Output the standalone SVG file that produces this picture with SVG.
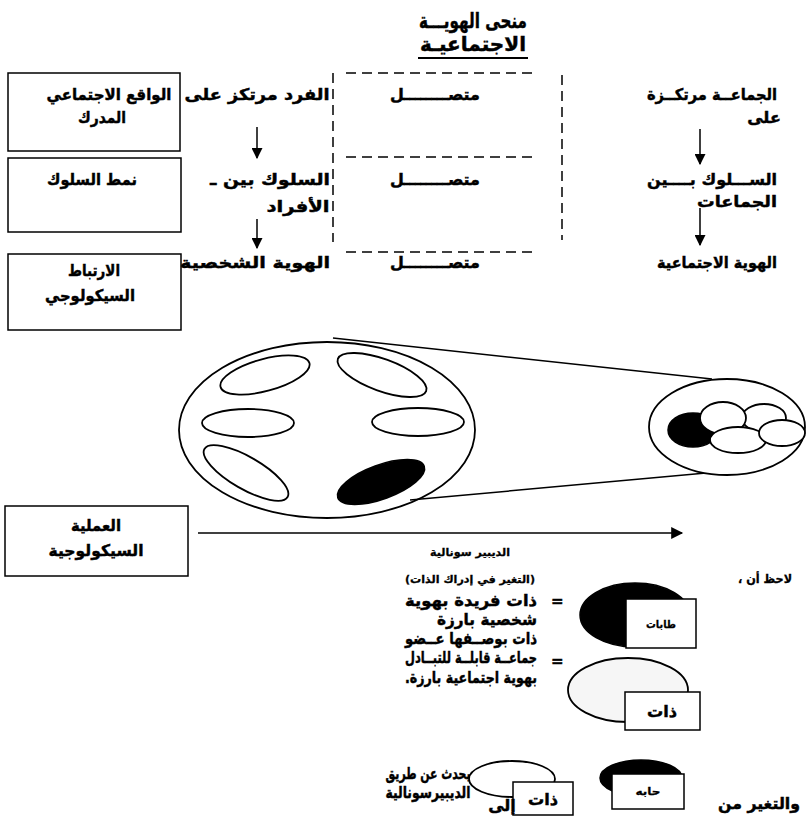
<svg xmlns="http://www.w3.org/2000/svg" width="808" height="829" viewBox="0 0 808 829">
<style>
text{font-family:"DejaVu Sans","Liberation Sans",sans-serif;font-weight:bold;fill:#000;stroke:#000;stroke-width:0.45;direction:rtl;unicode-bidi:embed;text-anchor:middle}
.t{font-size:16px}
.r{direction:ltr;text-anchor:end}
.eq{direction:ltr;text-anchor:start;font-size:15px}
.sm{font-size:11px;stroke-width:0.3}
.box{fill:#fff;stroke:#000;stroke-width:1.5}
.dash{stroke:#000;stroke-width:1.5;stroke-dasharray:10,6;fill:none}
.ln{stroke:#000;stroke-width:1.5;fill:none}
.ol{fill:#fff;stroke:#000;stroke-width:1.8}
.blk{fill:#000;stroke:#000;stroke-width:1.5}
</style>
<defs>
<marker id="ah" viewBox="0 0 10 10" refX="9" refY="5" markerWidth="11" markerHeight="11" markerUnits="userSpaceOnUse" orient="auto">
<path d="M0,0 L10,5 L0,10 z" fill="#000"/>
</marker>
<marker id="ah2" viewBox="0 0 10 10" refX="9" refY="5" markerWidth="13" markerHeight="12" markerUnits="userSpaceOnUse" orient="auto">
<path d="M0,0 L10,5 L0,10 z" fill="#000"/>
</marker>
</defs>

<g id="title">
<text x="473" y="28" style="font-size:21px" textLength="108" lengthAdjust="spacingAndGlyphs">منحى الهويـــة</text>
<text x="473" y="51" style="font-size:20px" textLength="106" lengthAdjust="spacingAndGlyphs">الاجتماعيـة</text>
<line x1="418" y1="58" x2="528" y2="58" stroke="#000" stroke-width="1.8"/>
</g>

<g id="box-reality">
<rect class="box" x="8" y="73" width="172" height="78"/>
<text class="t" x="109" y="100" textLength="125" lengthAdjust="spacingAndGlyphs">الواقع الاجتماعي</text>
<text class="t" x="102" y="123" textLength="48" lengthAdjust="spacingAndGlyphs">المدرك</text>
</g>
<g id="box-pattern">
<rect class="box" x="8" y="158" width="173" height="74"/>
<text class="t" x="92" y="185" textLength="90" lengthAdjust="spacingAndGlyphs">نمط السلوك</text>
</g>
<g id="box-link">
<rect class="box" x="8" y="254" width="173" height="76"/>
<text class="t" x="94" y="276" textLength="52" lengthAdjust="spacingAndGlyphs">الارتباط</text>
<text class="t" x="90" y="301" textLength="90" lengthAdjust="spacingAndGlyphs">السيكولوجي</text>
</g>

<g id="col-individual">
<text class="t" x="257" y="100" textLength="145" lengthAdjust="spacingAndGlyphs">الفرد مرتكز على</text>
<text class="t" x="270" y="185" textLength="120" lengthAdjust="spacingAndGlyphs">السلوك بين ـ</text>
<text class="t" x="298" y="212" textLength="63" lengthAdjust="spacingAndGlyphs">الأفراد</text>
<text class="t" x="255" y="268" textLength="150" lengthAdjust="spacingAndGlyphs">الهوية الشخصية</text>
</g>

<g id="col-continuum">
<text class="t" x="435" y="100" textLength="90" lengthAdjust="spacingAndGlyphs">متصــــــــل</text>
<text class="t" x="435" y="185" textLength="90" lengthAdjust="spacingAndGlyphs">متصــــــــل</text>
<text class="t" x="435" y="268" textLength="90" lengthAdjust="spacingAndGlyphs">متصــــــــل</text>
</g>

<g id="col-group">
<text class="t" x="712" y="100" textLength="130" lengthAdjust="spacingAndGlyphs">الجماعــة مرتكــزة</text>
<text class="t" x="764" y="123">على</text>
<text class="t" x="712" y="185" textLength="130" lengthAdjust="spacingAndGlyphs">الســـلوك بــــين</text>
<text class="t" x="737" y="207" textLength="80" lengthAdjust="spacingAndGlyphs">الجماعات</text>
<text class="t" x="717" y="268" textLength="120" lengthAdjust="spacingAndGlyphs">الهوية الاجتماعية</text>
</g>

<g id="connectors">
<line class="dash" x1="333" y1="73" x2="333" y2="242"/>
<line class="dash" x1="562" y1="75" x2="562" y2="240"/>
<line class="dash" x1="346" y1="73" x2="536" y2="73"/>
<line class="dash" x1="346" y1="157" x2="536" y2="157"/>
<line class="dash" x1="346" y1="252" x2="536" y2="252"/>
<line class="ln" x1="257" y1="127" x2="257" y2="158" marker-end="url(#ah)"/>
<line class="ln" x1="257" y1="219" x2="257" y2="248" marker-end="url(#ah)"/>
<line class="ln" x1="700" y1="129" x2="700" y2="164" marker-end="url(#ah)"/>
<line class="ln" x1="700" y1="208" x2="700" y2="245" marker-end="url(#ah)"/>
<line class="ln" x1="198" y1="533" x2="682" y2="533" marker-end="url(#ah2)"/>
<line class="ln" x1="333" y1="338" x2="712" y2="379"/>
<line class="ln" x1="410" y1="500" x2="706" y2="473"/>
</g>

<g id="big-ellipse">
<ellipse class="ol" cx="327" cy="430" rx="148" ry="88" style="fill:none"/>
<ellipse class="ol" cx="265" cy="375" rx="46" ry="16" transform="rotate(-15 265 375)"/>
<ellipse class="ol" cx="382" cy="375" rx="47" ry="16" transform="rotate(20 382 375)"/>
<ellipse class="ol" cx="248" cy="423" rx="46" ry="14"/>
<ellipse class="ol" cx="418" cy="422" rx="46" ry="14"/>
<ellipse class="ol" cx="246" cy="473" rx="48" ry="16" transform="rotate(30 246 473)"/>
<ellipse class="blk" cx="381" cy="482" rx="46" ry="17" transform="rotate(-20 381 482)"/>
</g>

<g id="small-ellipse">
<ellipse class="ol" cx="727" cy="427" rx="78" ry="48"/>
<ellipse class="blk" cx="693" cy="430" rx="25" ry="17"/>
<ellipse class="ol" cx="764" cy="418" rx="22" ry="14"/>
<ellipse class="ol" cx="723" cy="418" rx="23" ry="16"/>
<ellipse class="ol" cx="738" cy="440" rx="28" ry="13"/>
<ellipse class="ol" cx="782" cy="433" rx="23" ry="13"/>
</g>

<g id="box-process">
<rect class="box" x="5" y="506" width="183" height="70"/>
<text class="t" x="96" y="531" textLength="50" lengthAdjust="spacingAndGlyphs">العملية</text>
<text class="t" x="96" y="556" textLength="95" lengthAdjust="spacingAndGlyphs">السيكولوجية</text>
</g>

<g id="labels">
<text class="sm" x="470" y="556" textLength="80" lengthAdjust="spacingAndGlyphs">الديبير سونالية</text>
<text class="sm" x="470" y="583" textLength="130" lengthAdjust="spacingAndGlyphs">(التغير في إدراك الذات)</text>
<text class="sm" x="765" y="583" style="font-size:12px" textLength="54" lengthAdjust="spacingAndGlyphs">لاحظ أن ،</text>
</g>

<g id="legend">
<ellipse class="blk" cx="635" cy="615" rx="55" ry="32"/>
<rect class="box" x="626" y="599" width="70" height="49"/>
<text class="sm" x="661" y="628" textLength="30" lengthAdjust="spacingAndGlyphs">طابات</text>
<text class="eq" x="551" y="606">=</text>
<text class="t r" x="537" y="606" textLength="132" lengthAdjust="spacingAndGlyphs">ذات فريدة بهوية</text>
<text class="t r" x="537" y="625" textLength="100" lengthAdjust="spacingAndGlyphs">شخصية بارزة</text>
<text class="t r" x="537" y="644" textLength="132" lengthAdjust="spacingAndGlyphs">ذات بوصــفها عــضو</text>
<text class="t r" x="537" y="663" textLength="132" lengthAdjust="spacingAndGlyphs">جماعــة قابلــة للتبــادل</text>
<text class="t r" x="537" y="683" textLength="132" lengthAdjust="spacingAndGlyphs">بهوية اجتماعية بارزة.&#x200F;</text>
<text class="eq" x="551" y="666">=</text>
<ellipse class="ol" cx="628" cy="690" rx="60" ry="32" style="fill:#f6f6f6"/>
<rect class="box" x="625" y="692" width="75" height="38"/>
<text class="t" x="662" y="717" textLength="30" lengthAdjust="spacingAndGlyphs">ذات</text>
</g>

<g id="bottom">
<text class="t" x="428" y="779" textLength="85" lengthAdjust="spacingAndGlyphs">يحدث عن طريق</text>
<text class="t" x="428" y="798" textLength="85" lengthAdjust="spacingAndGlyphs">الديبيرسونالية</text>
<ellipse class="ol" cx="512" cy="779" rx="43" ry="18"/>
<rect class="box" x="513" y="782" width="60" height="33"/>
<text class="t" x="543" y="805" textLength="30" lengthAdjust="spacingAndGlyphs">ذات</text>
<text class="t" x="502" y="811">إلى</text>
<ellipse class="blk" cx="641" cy="778" rx="41" ry="18"/>
<rect class="box" x="612" y="774" width="72" height="35"/>
<text class="sm" x="648" y="795" textLength="25" lengthAdjust="spacingAndGlyphs">حابه</text>
<text class="t" x="759" y="809" textLength="82" lengthAdjust="spacingAndGlyphs">والتغير من</text>
</g>
</svg>
